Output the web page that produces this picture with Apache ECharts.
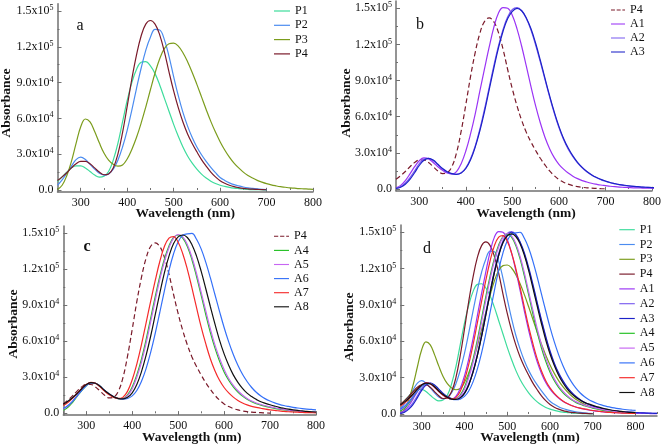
<!DOCTYPE html>
<html>
<head>
<meta charset="utf-8">
<script src="https://cdn.jsdelivr.net/npm/echarts@6/dist/echarts.min.js"></script>
<style>
  html, body { margin: 0; padding: 0; background: #fff; }
  #chart { width: 664px; height: 448px; }
</style>
</head>
<body>
<div id="chart"></div>
<script>
// wavelengths (nm), absorbance values below are in units of 1000
var wl = [250, 260, 270, 280, 290, 300, 310, 320, 330, 340, 350, 360, 370, 380, 390, 400, 410, 420, 430, 440,
          450, 460, 470, 480, 490, 500, 510, 520, 530, 540, 550, 560, 570, 580, 590, 600, 610, 620, 630, 640,
          650, 660, 670, 680, 690, 700, 710, 720, 730, 740, 750, 760, 770, 780, 790, 800, 810, 820, 830, 840, 850];

var P1 = [7, 11, 15, 18.5, 20.3, 20.3, 18.5, 15.5, 12.5, 10.8, 11.5, 15.5, 25, 39, 57, 75, 90, 101, 107, 107.5,
          104, 97.5, 88, 77, 66, 55, 45, 36, 28.5, 22.5, 17.5, 13.3, 10, 7.4, 5.4, 4, 3, 2.2, 1.6, 1.2,
          0.9, 0.6, 0.4, 0.3, 0.2, 0.1];
var P2 = [4, 8.5, 14, 20, 25.5, 27.5, 25.5, 21.5, 17.5, 14, 12.5, 13.5, 17.5, 25, 36, 50, 67, 85, 102, 117,
          128, 134.5, 134, 126, 112, 95, 79, 65, 53.5, 44, 36, 29.5, 24, 19, 14.5, 10.5, 8, 6, 4.5, 3.4,
          2.5, 1.8, 1.3, 0.9, 0.6, 0.4];
var P3 = [0.5, 4, 12, 24, 39, 53, 59.5, 57, 49, 39.5, 31, 25, 21.5, 20, 21, 26, 34, 44, 56, 69.5,
          84, 98, 110, 118.5, 122.5, 123, 120.5, 115, 107.5, 98.5, 88.5, 78, 67.5, 57.5, 48.5, 40.5, 33.5, 27.5, 22.5, 18.5,
          15, 12.2, 10, 8.1, 6.6, 5.3, 4.3, 3.5, 2.8, 2.3, 1.8, 1.5, 1.2, 1, 0.8, 0.6];
var P4 = [8, 11, 14.5, 18.5, 22, 24, 24, 22, 18.5, 15, 12.8, 13.5, 18.5, 30, 48, 70, 93, 113, 129, 139,
          142, 139, 130, 116, 99, 83, 69, 57, 47, 39, 32, 25.5, 20, 15, 11, 7.8, 5.6, 4, 2.8, 2,
          1.4, 1, 0.7, 0.5, 0.3, 0.2];
var A1 = [1, 3, 7, 12.5, 18.5, 23.5, 25.8, 25, 22, 18.5, 15.5, 13.3, 12.5, 14.5, 21, 31.5, 45.5, 62, 81, 99.5,
          117.5, 134, 146, 150.5, 150, 144, 133, 118.5, 102, 85, 69, 55, 43, 33.5, 26, 20.5, 16.5, 13.2, 10.6, 8.6,
          7, 5.8, 4.8, 4, 3.3, 2.8, 2.3, 1.9, 1.6, 1.4, 1.2, 1, 0.9, 0.8, 0.7, 0.6, 0.5, 0.45, 0.4, 0.35, 0.3];
var A2 = [0.5, 2, 5, 9.5, 15, 21, 24.8, 25.5, 23.5, 20, 16.5, 14, 12.5, 12.2, 13.5, 17.5, 25, 35.5, 49.5, 66,
          84, 102, 118.5, 132.5, 143, 149, 150.5, 148, 141.5, 132, 119.5, 105.5, 91, 76.5, 63, 51, 41, 33, 26.8, 21.7,
          17.6, 14.3, 11.6, 9.5, 7.8, 6.4, 5.3, 4.4, 3.6, 3, 2.5, 2.1, 1.8, 1.5, 1.3, 1.1, 0.9, 0.8, 0.65, 0.55, 0.45];
var A3 = [0.5, 1.5, 4, 8, 13.5, 19.5, 23.8, 25.5, 24, 20.5, 17, 14.3, 12.7, 12.2, 13.3, 17, 24, 34.5, 48, 64,
          82, 100, 117, 131, 141.5, 147.5, 150, 148, 142, 133, 121, 107, 92, 77.5, 64, 52, 42, 34, 27.5, 22.2,
          18, 14.6, 11.9, 9.7, 8, 6.6, 5.4, 4.5, 3.7, 3.1, 2.6, 2.2, 1.9, 1.6, 1.4, 1.2, 1, 0.85, 0.7, 0.6, 0.5];
var A4 = [2.5, 5, 9, 14, 19, 23, 25.3, 25, 22.5, 19, 16, 13.5, 12.3, 12.5, 15.5, 22, 32, 45, 61, 79,
          97, 114, 128.5, 139.5, 146.5, 148.6, 146, 139, 128, 114, 98.5, 82.5, 67.5, 54.5, 43.5, 34.5, 27.5, 22, 17.7, 14.3,
          11.7, 9.6, 8, 6.8, 5.8, 4.9, 4.1, 3.4, 2.8, 2.3, 1.9, 1.6, 1.3, 1.1, 0.9, 0.8];
var A5 = [3.5, 6, 10, 14.5, 19.5, 23.5, 25.5, 25, 22.5, 19, 16, 13.5, 12.2, 12.3, 14.8, 20.5, 30, 42.5, 58, 76,
          94, 111.5, 126.5, 138, 146, 149, 147, 140.5, 130, 116.5, 101, 85.5, 70.5, 57, 46, 36.5, 29, 23.3, 18.8, 15.2,
          12.4, 10.2, 8.6, 7.3, 6.3, 5.4, 4.6, 3.9, 3.2, 2.7, 2.2, 1.8, 1.5, 1.2, 1, 0.9];
var A6 = [4, 6.5, 10, 14.5, 19, 23, 25.3, 25, 22.5, 19, 16, 13.7, 12.3, 11.8, 12.3, 14.5, 19, 26.5, 37, 50.5,
          66.5, 84, 102, 119, 133, 143, 148.5, 149.5, 150, 145, 137, 126, 113, 99, 85, 71.5, 59.5, 49, 40, 32.5,
          26.5, 21.5, 17.5, 14.4, 12, 10.2, 8.7, 7.5, 6.5, 5.7, 5, 4.4, 3.9, 3.5, 3.2, 2.9];
var A7 = [6.5, 9, 12.5, 16.5, 20.5, 24, 25.8, 25, 22, 18.5, 15.5, 13.3, 12.4, 13.5, 18.5, 28, 41, 57, 75, 93,
          110.5, 126.5, 139, 146, 147.3, 142.5, 133, 120, 104.5, 88, 72, 58, 45.5, 35.5, 27.5, 21.5, 17, 13.5, 10.7, 8.6,
          7, 5.8, 4.9, 4.2, 3.5, 2.9, 2.4, 2, 1.6, 1.3, 1.1, 0.9, 0.7, 0.6, 0.5, 0.4];
var A8 = [7.5, 10, 13, 16.5, 20.5, 24, 25.5, 25, 22.5, 19, 16, 13.7, 12.3, 12, 13.3, 17, 24, 34.5, 48, 64,
          82, 100, 117, 131, 141.5, 147, 148.6, 146.5, 140.5, 131, 118.5, 104, 89, 74.5, 61, 49.5, 40, 32, 25.8, 20.8,
          16.8, 13.9, 11.6, 9.6, 8.3, 7.1, 6, 5, 4.2, 3.5, 2.9, 2.4, 2, 1.6, 1.3, 1.1];

var yTicks = [0, 30000, 60000, 90000, 120000, 150000];
var yTickMant = ['0.0', '3.0x10', '6.0x10', '9.0x10', '1.2x10', '1.5x10'];
var yTickExp = ['', '4', '4', '4', '5', '5'];
var yMinorTicks = [15000, 45000, 75000, 105000, 135000];
var xTicks = [300, 400, 500, 600, 700, 800];
var xMinorTicks = [250, 350, 450, 550, 650, 750, 850];

var curves = {P1: P1, P2: P2, P3: P3, P4: P4, A1: A1, A2: A2, A3: A3, A4: A4, A5: A5, A6: A6, A7: A7, A8: A8};
var colors = {
  P1: '#3ddc9c', P2: '#4b8cf0', P3: '#7b9c1c', P4: '#7a1a2a',
  A1: '#9a33f5', A2: '#7c5ef0', A3: '#1c22c8', A4: '#22c022',
  A5: '#c766f2', A6: '#3470f8', A7: '#f52a2a', A8: '#111111'
};

var FONT = 'Liberation Serif';
var AXIS = '#707070';
// legend swatches: a short line (solid or dashed) inside a 16x14 box
var ICON_SOLID = 'path://M0,0L0,0M0,6.4L16,6.4L16,7.6L0,7.6ZM16,14L16,14';
var ICON_DASH = 'path://M0,0L0,0M0,6.4L4.5,6.4L4.5,7.6L0,7.6ZM6.5,6.4L11,6.4L11,7.6L6.5,7.6ZM13,6.4L16,6.4L16,7.6L13,7.6ZM16,14L16,14';

var panels = [
  {key: 'a', grid: {left: 57.5, top: 3.8, width: 255.5, height: 188}, xMax: 800,
   names: ['P1', 'P2', 'P3', 'P4'], dashed: [],
   legend: {left: 274, top: 4, w: 16, gap: 0.3}, letter: [80, 26, 'normal'], xName: [185.3, 214], yName: [7, 103]},
  {key: 'b', grid: {left: 396, top: 1.1, width: 258, height: 189.7}, xMax: 800,
   names: ['P4', 'A1', 'A2', 'A3'], dashed: ['P4'],
   legend: {left: 611, top: 3, w: 14, gap: 0}, letter: [420, 25, 'normal'], xName: [526, 214], yName: [346.5, 103]},
  {key: 'c', grid: {left: 63.3, top: 226.1, width: 252.7, height: 189}, xMax: 800,
   names: ['P4', 'A4', 'A5', 'A6', 'A7', 'A8'], dashed: ['P4'],
   legend: {left: 274, top: 229.3, w: 15, gap: 0.1}, letter: [87, 247, 'bold'], xName: [191.7, 437.5], yName: [14, 324]},
  {key: 'd', grid: {left: 400.3, top: 225, width: 256.7, height: 190.8}, xMax: 850,
   names: ['P1', 'P2', 'P3', 'P4', 'A1', 'A2', 'A3', 'A4', 'A5', 'A6', 'A7', 'A8'], dashed: [],
   legend: {left: 619.3, top: 222.7, w: 15.5, gap: 0.8}, letter: [427, 249, 'normal'], xName: [530, 437.5], yName: [350, 327]}
];

function pts(vals) {
  return vals.map(function (v, i) { return [wl[i], v * 1000]; });
}

var grids = [], xAxes = [], yAxes = [], series = [], legends = [], graphics = [];

panels.forEach(function (p, i) {
  grids.push(p.grid);
  xAxes.push({
    gridIndex: i, type: 'value', position: 'bottom', min: 250, max: p.xMax,
    axisLine: {show: true, onZero: false, lineStyle: {color: AXIS, width: 1.5}},
    axisTick: {show: true, inside: true, length: 4, customValues: xTicks, lineStyle: {color: AXIS, width: 1}},
    axisLabel: {customValues: xTicks, fontFamily: FONT, fontSize: 12, color: '#111', margin: 5},
    splitLine: {show: false}
  });
  xAxes.push({
    gridIndex: i, type: 'value', position: 'bottom', min: 250, max: p.xMax,
    axisLine: {show: false},
    axisTick: {show: true, inside: true, length: 2, customValues: xMinorTicks, lineStyle: {color: AXIS, width: 1}},
    axisLabel: {show: false},
    splitLine: {show: false}
  });
  yAxes.push({
    gridIndex: i, type: 'value', position: 'left', min: -1500, max: 156000,
    axisLine: {show: true, onZero: false, lineStyle: {color: AXIS, width: 1.5}},
    axisTick: {show: true, inside: true, length: 4, customValues: yTicks, lineStyle: {color: AXIS, width: 1}},
    axisLabel: {
      customValues: yTicks, margin: 4, color: '#111',
      formatter: function (v) {
        var k = yTicks.indexOf(v);
        return '{n|' + yTickMant[k] + '}' + (yTickExp[k] ? '{s|' + yTickExp[k] + '}' : '');
      },
      rich: {
        n: {fontFamily: FONT, fontSize: 12, lineHeight: 14, color: '#111'},
        s: {fontFamily: FONT, fontSize: 8, lineHeight: 8, verticalAlign: 'top', color: '#111'}
      }
    },
    splitLine: {show: false}
  });
  yAxes.push({
    gridIndex: i, type: 'value', position: 'left', min: -1500, max: 156000,
    axisLine: {show: false},
    axisTick: {show: true, inside: true, length: 2, customValues: yMinorTicks, lineStyle: {color: AXIS, width: 1}},
    axisLabel: {show: false},
    splitLine: {show: false}
  });

  var legendData = [];
  p.names.forEach(function (n) {
    var id = n + '|' + p.key;
    var dashed = p.dashed.indexOf(n) >= 0;
    legendData.push({name: id, icon: dashed ? ICON_DASH : ICON_SOLID});
    series.push({
      type: 'line', name: id, xAxisIndex: 2 * i, yAxisIndex: 2 * i,
      data: pts(curves[n]), symbol: 'none', showSymbol: false, smooth: 0.4,
      lineStyle: {color: colors[n], width: 1.2, type: dashed ? [5, 3] : 'solid'},
      itemStyle: {color: colors[n]}
    });
  });
  legends.push({
    data: legendData, orient: 'vertical', left: p.legend.left, top: p.legend.top,
    itemWidth: p.legend.w, itemHeight: 14, itemGap: p.legend.gap, padding: 0,
    selectedMode: false,
    itemStyle: {borderWidth: 0},
    textStyle: {fontFamily: FONT, fontSize: 12, color: '#111', lineHeight: 14},
    formatter: function (n) { return n.split('|')[0]; }
  });

  graphics.push({
    type: 'text', x: p.letter[0], y: p.letter[1],
    style: {text: p.key, fontFamily: FONT, fontSize: 16, fontWeight: p.letter[2], fill: '#111',
            textAlign: 'center', textVerticalAlign: 'middle'}
  });
  graphics.push({
    type: 'text', x: p.xName[0], y: p.xName[1],
    style: {text: 'Wavelength (nm)', fontFamily: FONT, fontSize: 13.5, fontWeight: 'bold', fill: '#111',
            textAlign: 'center', textVerticalAlign: 'middle'}
  });
  graphics.push({
    type: 'text', x: p.yName[0], y: p.yName[1], rotation: Math.PI / 2,
    style: {text: 'Absorbance', fontFamily: FONT, fontSize: 13.5, fontWeight: 'bold', fill: '#111',
            textAlign: 'center', textVerticalAlign: 'middle'}
  });
});

var chart = echarts.init(document.getElementById('chart'));
chart.setOption({
  animation: false,
  backgroundColor: '#fff',
  grid: grids,
  xAxis: xAxes,
  yAxis: yAxes,
  legend: legends,
  series: series,
  graphic: graphics
});
</script>
</body>
</html>
